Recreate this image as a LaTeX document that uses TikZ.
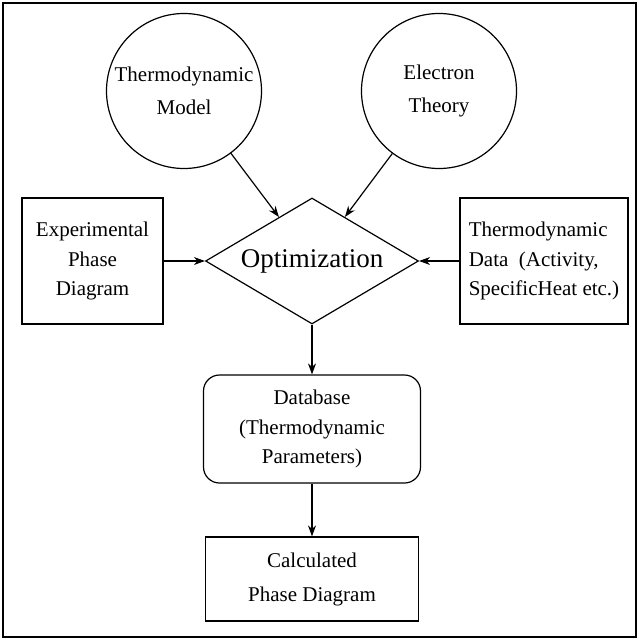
\documentclass[tikz,border=0pt]{standalone}
\usepackage{fontspec}
\setmainfont{Liberation Serif}
\usepackage{tikz}
\usetikzlibrary{arrows.meta, shapes.geometric}

\begin{document}
\begin{tikzpicture}[x=1pt, y=-1pt, line width=1.2pt]
\tikzstyle{txt}=[font=\fontsize{21}{29.5}\selectfont, align=center, inner sep=0pt]
\tikzstyle{source}=[txt, circle, draw, minimum size=155pt]
\tikzstyle{input}=[txt, rectangle, draw, minimum height=126pt]
\tikzstyle{arr}=[-{Stealth[length=11pt, width=8pt]}]

\useasboundingbox (0,0) rectangle (639,640);
\draw[line width=1.6pt] (3,3) rectangle (636,637);

\node[source, font=\fontsize{21}{33}\selectfont] (tmodel) at (184,91) {Thermodynamic\\Model};
\node[source, font=\fontsize{21}{33}\selectfont] (etheory) at (439,91) {Electron\\Theory};

\node[txt, diamond, draw, aspect=1.69, minimum width=213pt, minimum height=126pt,
      font=\fontsize{27}{30}\selectfont] (opt) at (312,261) {Optimization};

\node[input, minimum width=141pt] (expbox) at (92.5,261) {Experimental\\Phase\\Diagram};
\node[input, minimum width=168pt, align=left] (datbox) at (544,261)
  {Thermodynamic\\Data\ \ (Activity,\\SpecificHeat etc.)};

\node[txt, rectangle, rounded corners=16pt, draw, minimum width=217pt, minimum height=108pt] (dbase) at (312,429)
  {Database\\(Thermodynamic\\Parameters)};

\node[txt, rectangle, draw, minimum width=213pt, minimum height=84pt,
      font=\fontsize{21}{34}\selectfont] (calc) at (312,579) {Calculated\\Phase Diagram};

\path[arr]
(tmodel) edge (opt)
(etheory) edge (opt)
(expbox) edge (opt)
(datbox) edge (opt)
(opt) edge (dbase)
(dbase) edge (calc);

\end{tikzpicture}
\end{document}
